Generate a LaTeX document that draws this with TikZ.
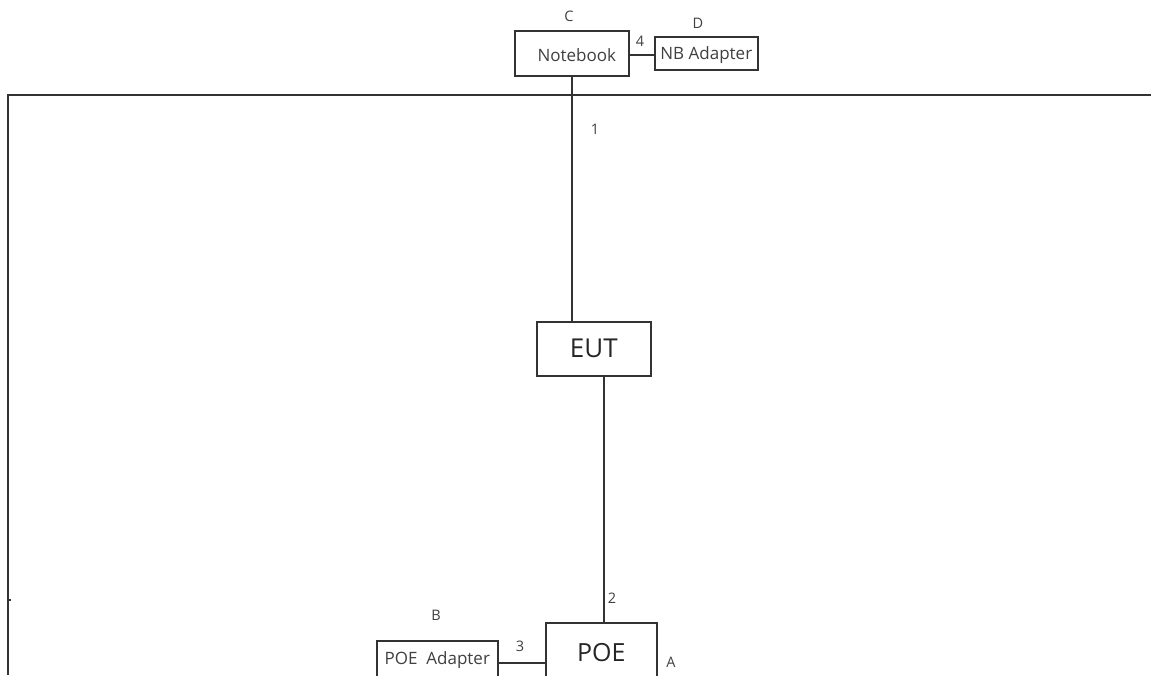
\documentclass[tikz,border=0pt]{standalone}
\usepackage{fontspec}
\setmainfont{Open Sans}
\tikzset{
  x=1pt,y=-1pt,
  boxnode/.style={draw=black!80,line width=1.6pt,fill=white,inner sep=0pt,text=black!75,anchor=north west,font=\fontsize{17}{20}\selectfont},
  bigtext/.style={font=\fontsize{26}{30}\selectfont,text=black!85},
  wire/.style={draw=black!80,line width=1.6pt},
  tag/.style={inner sep=0pt,text=black!75,font=\fontsize{14.5}{17}\selectfont},
}
\begin{document}
\begin{tikzpicture}
\useasboundingbox (0,0) rectangle (1151,675);
\clip (0,0) rectangle (1151,675);
\fill[white] (0,0) rectangle (1151,675);
\coordinate (frameR) at (1151,95);
\coordinate (frameC) at (8,95);
\coordinate (frameB) at (8,675);
\coordinate (tickA) at (8,600);
\coordinate (tickB) at (11,600);
\draw[wire] (frameR) -- (frameC) -- (frameB);
\draw[wire] (tickA) -- (tickB);
\node[boxnode,minimum width=114pt,minimum height=45pt] (nb) at (514,30) {\hspace{10pt}\raisebox{-2pt}[\height][\depth]{Notebook}};
\node[boxnode,minimum width=103pt,minimum height=33pt] (nba) at (654,36) {\raisebox{-2pt}[\height][\depth]{NB Adapter}};
\node[boxnode,bigtext,minimum width=114pt,minimum height=54pt] (eut) at (536,321) {EUT};
\node[boxnode,bigtext,font=\fontsize{25}{30}\selectfont,minimum width=111pt,minimum height=60pt] (poe) at (545,622) {POE\hspace{10pt}};
\node[boxnode,minimum width=121pt,minimum height=39pt] (poea) at (376,640) {POE\ \ Adapter\hspace{3pt}};
\draw[wire] (nb.east |- 0,55) -- (nba.west |- 0,55);
\draw[wire] (nb.south -| 572,0) -- (eut.north -| 572,0);
\draw[wire] (eut.south -| 604,0) -- (poe.north -| 604,0);
\draw[wire] (poea.east |- 0,663) -- (poe.west |- 0,663);
\node[tag] (tc) at (569,16) {C};
\node[tag] (td) at (698,23) {D};
\node[tag] (t4) at (640,41) {4};
\node[tag] (t1) at (595,129) {1};
\node[tag] (t2) at (612,598) {2};
\node[tag] (t3) at (520,646) {3};
\node[tag] (tb) at (436,615) {B};
\node[tag] (ta) at (671,662) {A};
\end{tikzpicture}
\end{document}
